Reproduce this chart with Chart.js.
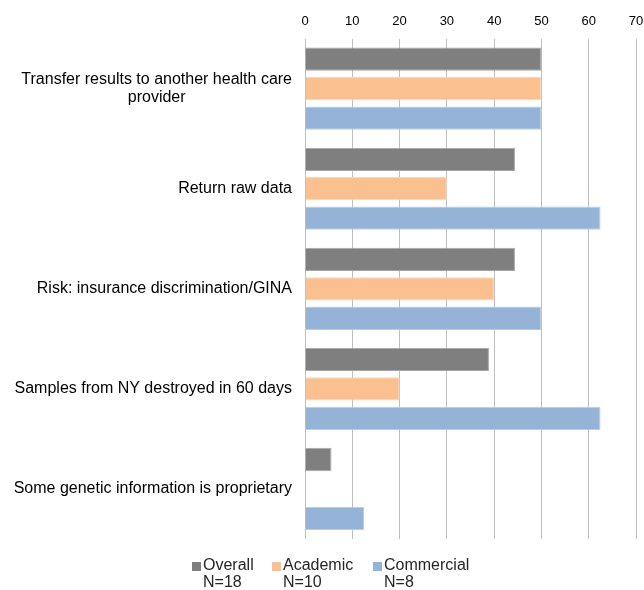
<!DOCTYPE html>
<html>
<head>
<meta charset="utf-8">
<script src="https://cdn.jsdelivr.net/npm/chart.js@4/dist/chart.umd.min.js"></script>
<style>
    html, body { margin: 0; padding: 0; background: #fff; }
    #wrap { width: 644px; height: 590px; position: relative; }
</style>
</head>
<body>
<div id="wrap"><canvas id="chart"></canvas></div>
<script>
// Categories (multi-line labels as arrays)
const categories = [
    ['Transfer results to another health care', 'provider'],
    ['Return raw data'],
    ['Risk: insurance discrimination/GINA'],
    ['Samples from NY destroyed in 60 days'],
    ['Some genetic information is proprietary']
];

// Series values (percent)
const overallValues = [50, 44.4, 44.4, 38.9, 5.6];
const academicValues = [50, 30, 40, 20, 0];
const commercialValues = [50, 62.5, 50, 62.5, 12.5];

// Legend labels
const seriesNames = [['Overall', 'N=18'], ['Academic', 'N=10'], ['Commercial', 'N=8']];

// Axis ticks
const xTicks = [0, 10, 20, 30, 40, 50, 60, 70];

const colors = {
    overall: '#7f7f7f',
    overallEdge: '#a6a6a6',
    academic: '#fac090',
    academicEdge: '#fcd5b5',
    commercial: '#95b3d7',
    commercialEdge: '#b9cde5',
    grid: '#bfbfbf'
};

const FONT = '"Liberation Sans", Arial, sans-serif';

// Draw category labels: block right-aligned, lines centered within block
const categoryLabels = {
    id: 'categoryLabels',
    afterDraw(chart) {
        const ctx = chart.ctx;
        const yScale = chart.scales.y;
        const right = chart.chartArea.left - 13;
        const lineH = 18;
        ctx.save();
        ctx.font = '16px ' + FONT;
        ctx.fillStyle = '#000';
        ctx.textAlign = 'center';
        ctx.textBaseline = 'middle';
        categories.forEach((lines, i) => {
            const blockW = Math.max(...lines.map(l => ctx.measureText(l).width));
            const cx = right - blockW / 2;
            const cy = yScale.getPixelForValue(i);
            const top = cy - (lines.length - 1) * lineH / 2;
            lines.forEach((l, j) => ctx.fillText(l, cx, top + j * lineH));
        });
        ctx.restore();
    }
};

// Legend with two-line entries
const twoLineLegend = {
    id: 'twoLineLegend',
    afterDraw(chart) {
        const ctx = chart.ctx;
        const starts = [192, 272, 373];
        const y = 566;
        ctx.save();
        ctx.font = '16px ' + FONT;
        ctx.textBaseline = 'middle';
        ctx.textAlign = 'left';
        chart.data.datasets.forEach((ds, i) => {
            const x = starts[i];
            ctx.fillStyle = ds.backgroundColor;
            ctx.fillRect(x, y - 4, 9, 9);
            ctx.fillStyle = '#262626';
            seriesNames[i].forEach((t, j) => ctx.fillText(t, x + 11, y + j * 17));
        });
        ctx.restore();
    }
};

new Chart(document.getElementById('chart'), {
    type: 'bar',
    data: {
        labels: categories,
        datasets: [
            {
                label: 'Overall N=18',
                data: overallValues,
                backgroundColor: colors.overall,
                borderColor: colors.overallEdge,
                borderWidth: 1
            },
            {
                label: 'Academic N=10',
                data: academicValues,
                backgroundColor: colors.academic,
                borderColor: colors.academicEdge,
                borderWidth: 1
            },
            {
                label: 'Commercial N=8',
                data: commercialValues,
                backgroundColor: colors.commercial,
                borderColor: colors.commercialEdge,
                borderWidth: 1
            }
        ]
    },
    options: {
        indexAxis: 'y',
        responsive: true,
        maintainAspectRatio: false,
        animation: false,
        categoryPercentage: 0.883,
        barPercentage: 0.79,
        layout: {
            padding: { top: 5, right: 8, bottom: 51, left: 0 }
        },
        plugins: {
            legend: { display: false },
            tooltip: { enabled: false }
        },
        scales: {
            x: {
                position: 'top',
                min: 0,
                max: 70,
                afterBuildTicks: (scale) => {
                    scale.ticks = xTicks.map(v => ({ value: v }));
                },
                afterFit: (scale) => {
                    scale.paddingRight = 0;
                },
                ticks: {
                    padding: 9,
                    color: '#000',
                    font: { size: 13, family: FONT }
                },
                grid: {
                    color: colors.grid,
                    lineWidth: 1,
                    drawTicks: false
                },
                border: { display: false }
            },
            y: {
                ticks: { display: false },
                grid: { display: false },
                border: { display: false },
                afterFit: (scale) => {
                    scale.width = 305;
                }
            }
        }
    },
    plugins: [categoryLabels, twoLineLegend]
});
</script>
</body>
</html>
